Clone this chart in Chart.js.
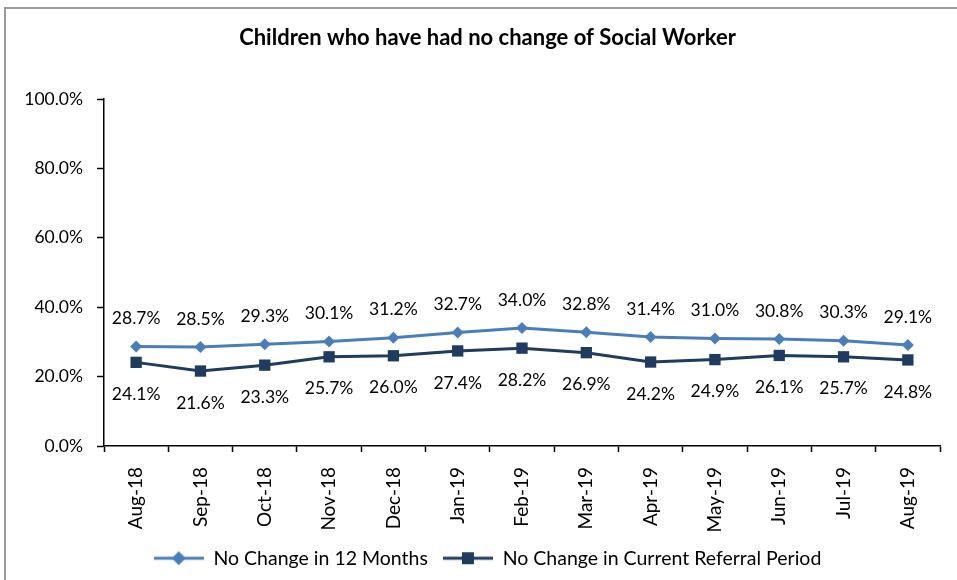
<!DOCTYPE html>
<html>
<head>
<meta charset="utf-8">
<script src="https://cdn.jsdelivr.net/npm/chart.js@4.4.1/dist/chart.umd.min.js"></script>
<style>
  html, body { margin: 0; padding: 0; background: #fff; }
  #wrap { width: 957px; height: 580px; position: relative; }
</style>
</head>
<body>
<div id="wrap"><canvas id="socialChart" width="957" height="580"></canvas></div>
<script>
const months = ["Aug-18", "Sep-18", "Oct-18", "Nov-18", "Dec-18", "Jan-19", "Feb-19",
                "Mar-19", "Apr-19", "May-19", "Jun-19", "Jul-19", "Aug-19"];
const noChange12Months = [28.7, 28.5, 29.3, 30.1, 31.2, 32.7, 34.0, 32.8, 31.4, 31.0, 30.8, 30.3, 29.1];
const noChangeReferral = [24.1, 21.6, 23.3, 25.7, 26.0, 27.4, 28.2, 26.9, 24.2, 24.9, 26.1, 25.7, 24.8];
const yTicks = [0, 20, 40, 60, 80, 100];

const lightBlue = "#4A7EBB";
const darkBlue = "#1F3B5E";
const fontFamily = "Lato, 'Open Sans', sans-serif";

// small line+marker swatch for the legend
function legendSwatch(color, style) {
  const c = document.createElement("canvas");
  c.width = 50; c.height = 16;
  const g = c.getContext("2d");
  g.strokeStyle = color;
  g.lineWidth = 3;
  g.beginPath(); g.moveTo(0, 8); g.lineTo(50, 8); g.stroke();
  g.fillStyle = color;
  g.beginPath();
  if (style === "diamond") {
    g.moveTo(25, 1); g.lineTo(32, 8); g.lineTo(25, 15); g.lineTo(18, 8);
  } else {
    g.rect(19, 2, 12, 12);
  }
  g.fill();
  return c;
}

// value labels above / below the points
const valueLabels = {
  id: "valueLabels",
  afterDatasetsDraw(chart) {
    const ctx = chart.ctx;
    ctx.save();
    ctx.font = "17.5px " + fontFamily;
    ctx.fillStyle = "#000";
    ctx.textAlign = "center";
    ctx.textBaseline = "middle";
    chart.data.datasets.forEach((ds, i) => {
      const meta = chart.getDatasetMeta(i);
      const off = i === 0 ? -28 : 32;
      meta.data.forEach((pt, j) => {
        ctx.fillText(ds.data[j].toFixed(1) + "%", pt.x, pt.y + off);
      });
    });
    ctx.restore();
  }
};

// grey frame round the chart
const frame = {
  id: "frame",
  beforeDraw(chart) {
    const ctx = chart.ctx;
    ctx.save();
    ctx.strokeStyle = "#9a9a9a";
    ctx.lineWidth = 2;
    ctx.strokeRect(5, 8, 970, 600);
    ctx.restore();
  }
};

new Chart(document.getElementById("socialChart"), {
  type: "line",
  data: {
    labels: months,
    datasets: [
      {
        label: "No Change in 12 Months",
        data: noChange12Months,
        borderColor: lightBlue,
        backgroundColor: lightBlue,
        borderWidth: 3,
        pointStyle: "rectRot",
        pointRadius: 6,
        pointBorderWidth: 0,
        tension: 0
      },
      {
        label: "No Change in Current Referral Period",
        data: noChangeReferral,
        borderColor: darkBlue,
        backgroundColor: darkBlue,
        borderWidth: 3,
        pointStyle: "rect",
        pointRadius: 8,
        pointBorderWidth: 0,
        tension: 0
      }
    ]
  },
  options: {
    responsive: false,
    animation: false,
    layout: { padding: { left: 18, right: 0, top: 0, bottom: 2 } },
    scales: {
      x: {
        offset: true,
        grid: { display: true, offset: true, drawOnChartArea: false, color: "#000", tickLength: 6, tickWidth: 1.5 },
        border: { color: "#000", width: 1.5 },
        ticks: { color: "#000", font: { family: fontFamily, size: 19 }, minRotation: 90, maxRotation: 90, padding: 15 },
        afterFit(scale) { scale.height = 87.5; }
      },
      y: {
        min: 0,
        max: 100,
        afterBuildTicks(scale) { scale.ticks = yTicks.map(v => ({ value: v })); },
        grid: { display: true, drawOnChartArea: false, color: "#000", tickLength: 7, tickWidth: 1.5 },
        border: { color: "#000", width: 1.5 },
        ticks: {
          color: "#000",
          font: { family: fontFamily, size: 17.5 },
          padding: 14,
          callback: v => v.toFixed(1) + "%"
        },
        afterFit(scale) { scale.width = 86; }
      },
      // empty right-hand spacer so the plot stops short of the frame
      spacer: {
        position: "right",
        display: true,
        grid: { display: false },
        border: { display: false },
        ticks: { display: false },
        afterFit(scale) { scale.width = 17; }
      }
    },
    plugins: {
      title: {
        display: true,
        text: "Children who have had no change of Social Worker",
        color: "#000",
        font: { family: fontFamily, size: 22, weight: "bold" },
        padding: { top: 25, bottom: 47.6 }
      },
      legend: {
        position: "bottom",
        labels: {
          color: "#000",
          font: { family: fontFamily, size: 19.5 },
          usePointStyle: true,
          pointStyleWidth: 50,
          padding: 15,
          generateLabels(chart) {
            return chart.data.datasets.map((ds, i) => ({
              text: ds.label,
              datasetIndex: i,
              pointStyle: legendSwatch(ds.borderColor, i === 0 ? "diamond" : "square"),
              fillStyle: ds.borderColor,
              strokeStyle: ds.borderColor,
              lineWidth: 0,
              fontColor: "#000",
              hidden: false
            }));
          }
        }
      },
      tooltip: { enabled: false }
    }
  },
  plugins: [frame, valueLabels]
});
</script>
</body>
</html>
